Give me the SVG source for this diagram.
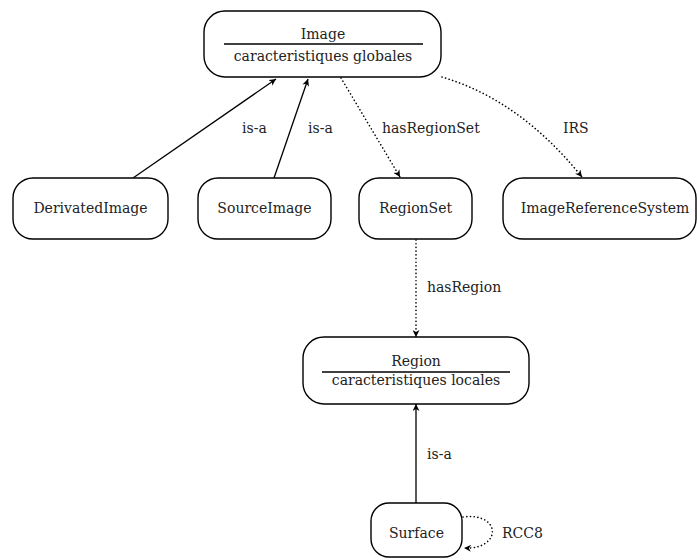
<svg xmlns="http://www.w3.org/2000/svg" width="697" height="560" viewBox="0 0 697 560">
  <defs>
    <marker id="arrow" viewBox="0 0 10 10" refX="10" refY="5" markerWidth="7" markerHeight="7" markerUnits="userSpaceOnUse" orient="auto">
      <path d="M0,0 L10,5 L0,10 L3,5 Z" fill="#000"/>
    </marker>
  </defs>
  <style>
    .box { fill: #fff; stroke: #000; stroke-width: 1.4; }
    .sep { stroke: #000; stroke-width: 1.4; }
    text { font-family: "DejaVu Serif", serif; font-size: 14px; fill: #222; }
    .c { text-anchor: middle; }
    .solid { fill: none; stroke: #000; stroke-width: 1.3; marker-end: url(#arrow); }
    .dot { fill: none; stroke: #000; stroke-width: 1.6; stroke-dasharray: 0.1 3.6; stroke-linecap: round; marker-end: url(#arrow); }
  </style>

  <!-- connectors -->
  <g id="connectors">
    <path class="solid" d="M133,178 L276,79"/>
    <path class="solid" d="M274,178 L308,79"/>
    <path class="dot" d="M341,78 L400,177"/>
    <path class="dot" d="M442,77 Q520,100 582,177"/>
    <path class="dot" d="M416,240 L416,337"/>
    <path class="solid" d="M416,503 L416,404"/>
    <path class="dot" d="M463,517 C502,512 502,550 464,548"/>
    <text x="242" y="133">is-a</text>
    <text x="308" y="133">is-a</text>
    <text x="382" y="133">hasRegionSet</text>
    <text x="563" y="133">IRS</text>
    <text x="427" y="292">hasRegion</text>
    <text x="427" y="459">is-a</text>
    <text x="502" y="538">RCC8</text>
  </g>

  <!-- nodes -->
  <g id="image">
    <rect class="box" x="204" y="11" width="237" height="66" rx="21"/>
    <text class="c" x="323" y="39">Image</text>
    <line class="sep" x1="224" y1="44" x2="423" y2="44"/>
    <text class="c" x="323" y="61">caracteristiques globales</text>
  </g>
  <g id="derivatedimage">
    <rect class="box" x="13" y="178" width="155" height="61" rx="20"/>
    <text class="c" x="90.5" y="213">DerivatedImage</text>
  </g>
  <g id="sourceimage">
    <rect class="box" x="198" y="178" width="133" height="61" rx="20"/>
    <text class="c" x="264.5" y="213">SourceImage</text>
  </g>
  <g id="regionset">
    <rect class="box" x="359" y="178" width="113" height="61" rx="20"/>
    <text class="c" x="415.5" y="213">RegionSet</text>
  </g>
  <g id="imagereferencesystem">
    <rect class="box" x="503" y="178" width="193" height="61" rx="20"/>
    <text class="c" x="605" y="213">ImageReferenceSystem</text>
  </g>
  <g id="region">
    <rect class="box" x="303" y="337" width="226" height="67" rx="21"/>
    <text class="c" x="416" y="366">Region</text>
    <line class="sep" x1="322" y1="372" x2="510" y2="372"/>
    <text class="c" x="416" y="385">caracteristiques locales</text>
  </g>
  <g id="surface">
    <rect class="box" x="371" y="503" width="91" height="54" rx="18"/>
    <text class="c" x="416.5" y="538">Surface</text>
  </g>
</svg>
